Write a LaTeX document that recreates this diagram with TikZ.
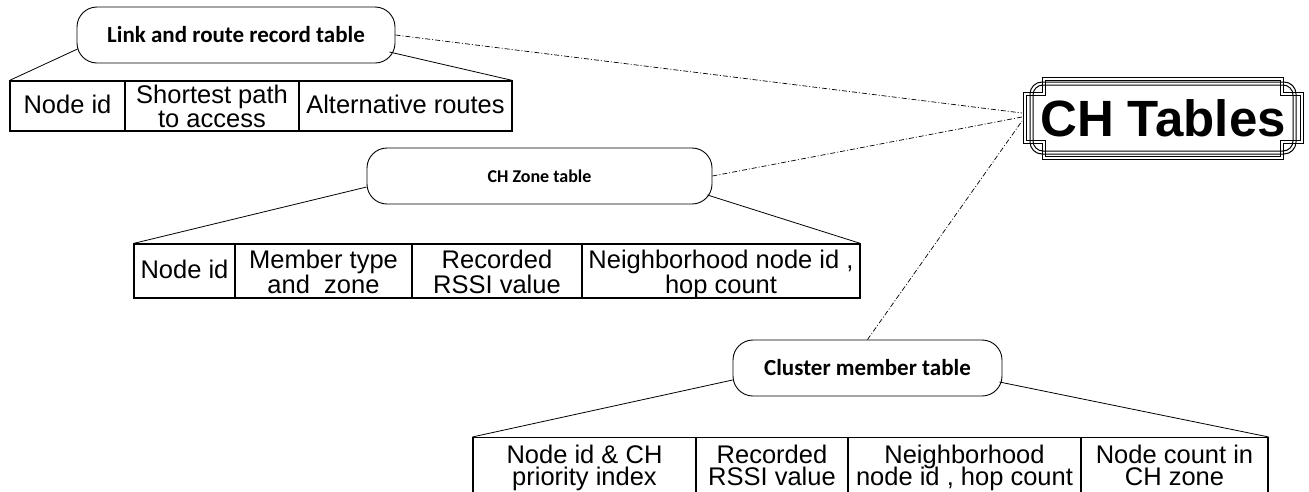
\documentclass[tikz,border=0pt]{standalone}
\usepackage{fontspec}
\setmainfont{Liberation Sans}
\newfontfamily\labelfont{Carlito}
\usetikzlibrary{calc}

\tikzset{
  tablename/.style={draw, line width=0.9pt, rectangle, rounded corners=20pt,
    inner sep=0pt, font=\labelfont\bfseries},
  cell/.style={draw, line width=1.1pt, rectangle, inner sep=0pt},
  celltext/.style={inner sep=0pt, anchor=base, font=\fontsize{25.5}{25.5}\selectfont},
  branch/.style={line width=0.8pt},
  linkline/.style={line width=0.7pt, dash pattern=on 5pt off 2pt on 1pt off 2pt},
  frameline/.style={line width=1pt}
}

\begin{document}
\begin{tikzpicture}[x=1pt, y=-1pt]
\useasboundingbox (0,0) rectangle (1309,491);

% ---- CH Tables plaque ----
\node[font=\fontsize{51}{51}\selectfont\bfseries] (ch) at (1163,118) {CH Tables};
\draw[frameline] (1042,77) -- (1283,77) -- (1283,92) -- (1303,92) -- (1303,143)
  -- (1283,143) -- (1283,159) -- (1042,159) -- (1042,143) -- (1023,143)
  -- (1023,92) -- (1042,92) -- cycle;
\draw[frameline] (1045,80) -- (1280,80) -- (1280,95) -- (1300,95) -- (1300,140)
  -- (1280,140) -- (1280,156) -- (1045,156) -- (1045,140) -- (1026,140)
  -- (1026,95) -- (1045,95) -- cycle;
\draw[frameline, rounded corners=12pt] (1030,82) rectangle (1296,154);
\draw[frameline, rounded corners=10pt] (1033,85) rectangle (1293,151);
\coordinate (chA) at (1022,113);
\coordinate (chB) at (1022,117);
\coordinate (chC) at (1022,121);

% ---- Link and route record table ----
\node[tablename, minimum width=318pt, minimum height=56pt, font=\labelfont\bfseries\fontsize{23}{23}\selectfont]
  (lr) at (236,35) {Link and route record table};
\node[cell, minimum width=115pt, minimum height=50pt] (lr1) at (67.5,106) {};
\node[cell, minimum width=174pt, minimum height=50pt] (lr2) at (212,106) {};
\node[cell, minimum width=213pt, minimum height=50pt] (lr3) at (405.5,106) {};
\node[celltext] (lr1a) at ($(lr1.north)+(0,33)$) {Node id};
\node[celltext] (lr2a) at ($(lr2.north)+(0,23)$) {Shortest path};
\node[celltext] (lr2b) at ($(lr2.north)+(0,47.5)$) {to access};
\node[celltext] (lr3a) at ($(lr3.north)+(0,33)$) {Alternative routes};
\draw[branch] ($(lr.west)+(1,14)$) -- (lr1.north west);
\draw[branch] ($(lr.east)+(-6,17)$) -- (lr3.north east);

% ---- CH Zone table ----
\node[tablename, minimum width=345pt, minimum height=56pt, font=\labelfont\bfseries\fontsize{18}{18}\selectfont]
  (cz) at (539.5,176) {CH Zone table};
\node[cell, minimum width=101pt, minimum height=54pt] (cz1) at (184.5,271) {};
\node[cell, minimum width=177pt, minimum height=54pt] (cz2) at (323.5,271) {};
\node[cell, minimum width=170pt, minimum height=54pt] (cz3) at (497,271) {};
\node[cell, minimum width=278pt, minimum height=54pt] (cz4) at (721,271) {};
\node[celltext] (cz1a) at ($(cz1.north)+(0,35)$) {Node id};
\node[celltext] (cz2a) at ($(cz2.north)+(0,25.5)$) {Member type};
\node[celltext] (cz2b) at ($(cz2.north)+(0,50)$) {and\ \ zone};
\node[celltext] (cz3a) at ($(cz3.north)+(0,25.5)$) {Recorded};
\node[celltext] (cz3b) at ($(cz3.north)+(0,50)$) {RSSI value};
\node[celltext] (cz4a) at ($(cz4.north)+(0,25.5)$) {Neighborhood node id ,};
\node[celltext] (cz4b) at ($(cz4.north)+(0,50)$) {hop count};
\draw[branch] ($(cz.west)+(0,11)$) -- (cz1.north west);
\draw[branch] ($(cz.east)+(-5,19)$) -- (cz4.north east);

% ---- Cluster member table ----
\node[tablename, minimum width=269pt, minimum height=56pt, font=\labelfont\bfseries\fontsize{23}{23}\selectfont]
  (cm) at (867.5,368) {Cluster member table};
\node[cell, minimum width=223pt, minimum height=60pt] (cm1) at (584.5,467.5) {};
\node[cell, minimum width=152pt, minimum height=60pt] (cm2) at (772,467.5) {};
\node[cell, minimum width=233pt, minimum height=60pt] (cm3) at (964.5,467.5) {};
\node[cell, minimum width=187pt, minimum height=60pt] (cm4) at (1174.5,467.5) {};
\node[celltext] (cm1a) at ($(cm1.north)+(0,27)$) {Node id \& CH};
\node[celltext] (cm1b) at ($(cm1.north)+(0,48.5)$) {priority index};
\node[celltext] (cm2a) at ($(cm2.north)+(0,27)$) {Recorded};
\node[celltext] (cm2b) at ($(cm2.north)+(0,48.5)$) {RSSI value};
\node[celltext] (cm3a) at ($(cm3.north)+(0,27)$) {Neighborhood};
\node[celltext] (cm3b) at ($(cm3.north)+(0,48.5)$) {node id , hop count};
\node[celltext] (cm4a) at ($(cm4.north)+(0,27)$) {Node count in};
\node[celltext] (cm4b) at ($(cm4.north)+(0,48.5)$) {CH zone};
\draw[branch] ($(cm.west)+(0,12)$) -- (cm1.north west);
\draw[branch] ($(cm.east)+(-3,14)$) -- (cm4.north east);

% ---- links to the CH Tables plaque ----
\draw[linkline] (lr.east) -- (chA);
\draw[linkline] (cz.east) -- (chB);
\draw[linkline] (cm.north) -- (chC);
\end{tikzpicture}
\end{document}
